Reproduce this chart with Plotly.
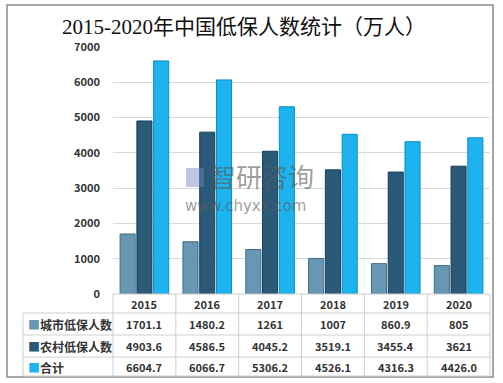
import plotly.graph_objects as go

years = ["2015", "2016", "2017", "2018", "2019", "2020"]
series_names = ["城市低保人数", "农村低保人数", "合计"]
urban = [1701.1, 1480.2, 1261, 1007, 860.9, 805]
rural = [4903.6, 4586.5, 4045.2, 3519.1, 3455.4, 3621]
total = [6604.7, 6066.7, 5306.2, 4526.1, 4316.3, 4426.0]
urban_text = ["1701.1", "1480.2", "1261", "1007", "860.9", "805"]
rural_text = ["4903.6", "4586.5", "4045.2", "3519.1", "3455.4", "3621"]
total_text = ["6604.7", "6066.7", "5306.2", "4526.1", "4316.3", "4426.0"]
y_ticks = [0, 1000, 2000, 3000, 4000, 5000, 6000, 7000]

colors = ["#6797b2", "#2b5a78", "#1db3ef"]
edges = ["#3f6d86", "#173f58", "#0b8cc4"]

W, H = 503, 383
L, R, T, B = 113, 490, 47, 294  # plot area in pixels


def px(x):
    return (x - L) / (R - L)


def py(y):
    return (B - y) / (B - T)


fig = go.Figure()
for name, vals, c, e in zip(series_names, [urban, rural, total], colors, edges):
    fig.add_trace(go.Bar(x=years, y=vals, name=name,
                         marker=dict(color=c, line=dict(color=e, width=1))))

fnt = "Noto Sans CJK SC, Noto Sans, sans-serif"
shapes = []
grid = "#cfcfcf"
# outer border
shapes.append(dict(type="rect", xref="paper", yref="paper",
                   x0=px(7), x1=px(493), y0=py(377), y1=py(5),
                   line=dict(color="#8a8a8a", width=1.5)))
# table horizontal lines
shapes.append(dict(type="line", xref="paper", yref="paper",
                   x0=0, x1=1, y0=py(294), y1=py(294), line=dict(color=grid, width=1)))
for yy in [313, 335, 357, 376]:
    shapes.append(dict(type="line", xref="paper", yref="paper",
                       x0=px(23), x1=1, y0=py(yy), y1=py(yy), line=dict(color=grid, width=1)))
# table vertical lines
shapes.append(dict(type="line", xref="paper", yref="paper",
                   x0=px(23), x1=px(23), y0=py(313), y1=py(376), line=dict(color=grid, width=1)))
for k in range(len(years) + 1):
    xx = k / len(years)
    shapes.append(dict(type="line", xref="paper", yref="paper",
                       x0=xx, x1=xx, y0=py(294), y1=py(376), line=dict(color=grid, width=1)))

ann = []
txtc = "#333333"
for i, yr in enumerate(years):
    ann.append(dict(x=i, xref="x", y=py(303.5), yref="paper", text=yr, showarrow=False,
                    xanchor="center", yanchor="middle",
                    font=dict(family=fnt, size=11, color=txtc, weight="bold")))
row_y = [324, 346, 367]
for ri, (name, vals, c) in enumerate(zip(series_names, [urban_text, rural_text, total_text], colors)):
    ann.append(dict(x=px(26), xref="paper", y=py(row_y[ri]), yref="paper",
                    xanchor="left", yanchor="middle",
                    text=f'<span style="color:{c}">■</span>{name}', showarrow=False,
                    font=dict(family=fnt, size=12, color=txtc, weight="bold")))
    for i, v in enumerate(vals):
        ann.append(dict(x=i, xref="x", y=py(row_y[ri]), yref="paper", text=v, showarrow=False,
                        xanchor="center", yanchor="middle",
                        font=dict(family=fnt, size=11, color=txtc, weight="bold")))
# watermark
ann.append(dict(x=px(208), xref="paper", y=py(176), yref="paper", xanchor="left", yanchor="middle",
                text="智研咨询", showarrow=False,
                font=dict(family=fnt, size=26, color="rgba(90,90,90,0.6)")))
ann.append(dict(x=px(183), xref="paper", y=py(206), yref="paper", xanchor="left", yanchor="middle",
                text="www.chyxx.com", showarrow=False,
                font=dict(family="DejaVu Sans, sans-serif", size=15, color="rgba(90,90,90,0.6)")))
shapes.append(dict(type="rect", xref="paper", yref="paper",
                   x0=px(186), x1=px(204), y0=py(187), y1=py(168),
                   line=dict(width=0), fillcolor="rgba(110,130,200,0.45)"))

fig.update_layout(
    width=W, height=H, autosize=False,
    margin=dict(l=L, r=W - R, t=T, b=H - B),
    paper_bgcolor="white", plot_bgcolor="white",
    showlegend=False,
    barmode="group", bargap=0.2, bargroupgap=0.1,
    title=dict(text="2015-2020年中国低保人数统计（万人）", x=244 / W, xanchor="center",
               y=1 - 27 / H, yanchor="middle",
               font=dict(family="Liberation Serif, Noto Sans CJK SC, serif", size=21, color="#111111")),
    xaxis=dict(showticklabels=False, showgrid=False, showline=False, zeroline=False,
               type="category", range=[-0.5, len(years) - 0.5], fixedrange=True),
    yaxis=dict(range=[0, 7000], tickvals=y_ticks, showgrid=True, gridcolor="#d9d9d9",
               zeroline=False, showline=False, ticks="", ticklabelstandoff=12,
               tickfont=dict(family=fnt, size=11, color=txtc, weight="bold")),
    shapes=shapes, annotations=ann,
)
fig.write_html("out.html", config={"displayModeBar": False},
               post_script="document.body.style.margin='0';document.body.style.overflow='hidden';")
